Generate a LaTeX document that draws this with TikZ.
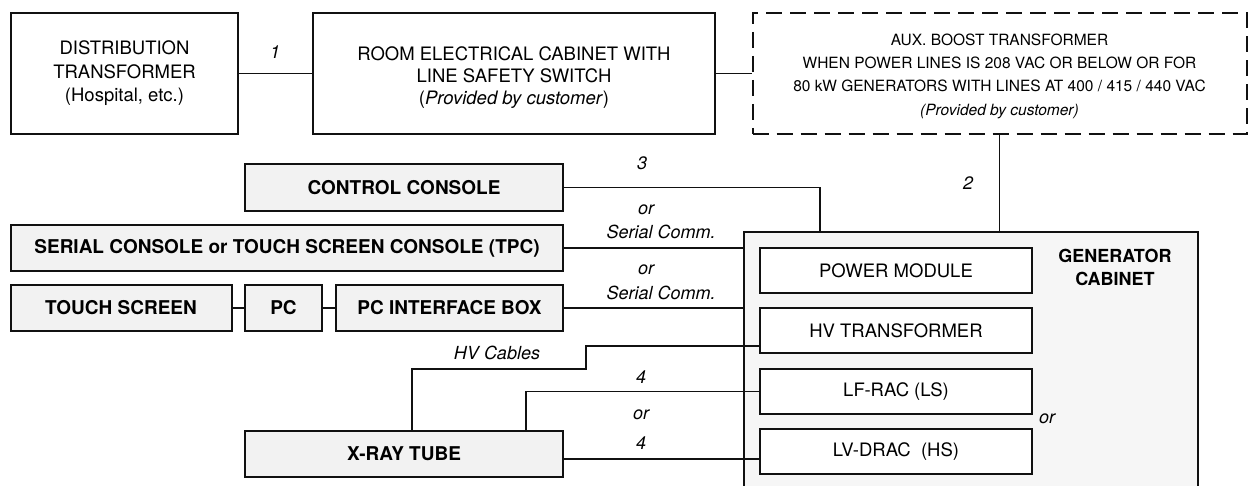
\documentclass[tikz,border=0pt]{standalone}
\usepackage{fontspec}
\setmainfont{TeX Gyre Heros}
\usetikzlibrary{calc}
\definecolor{BoxGray}{HTML}{F2F2F2}
\definecolor{CabGray}{HTML}{F6F6F6}
\definecolor{InkDark}{HTML}{111111}
\tikzset{
  whitebox/.style={rectangle, draw=InkDark, line width=2pt, fill=white,
             align=center, inner sep=0pt, font=\fontsize{18.5}{23.5}\selectfont},
  graybox/.style={whitebox, fill=BoxGray, minimum height=46pt,
             font=\fontsize{19}{22}\selectfont\bfseries},
  auxbox/.style={whitebox, dash pattern=on 16pt off 8pt,
             font=\fontsize{15.5}{23.4}\selectfont},
  modbox/.style={whitebox, minimum width=272pt, minimum height=45pt},
  cabbox/.style={rectangle, draw=InkDark, line width=2pt, fill=CabGray},
  wire/.style={line width=1.8pt, draw=InkDark},
  wlabel/.style={font=\fontsize{18}{21}\selectfont\itshape, inner sep=0pt, align=center},
}
\begin{document}
\begin{tikzpicture}[x=1pt, y=-1pt]
\useasboundingbox (0,0) rectangle (1249,486);
\node[whitebox, minimum width=227pt, minimum height=121pt] (dist) at (124.5,73.5) {DISTRIBUTION\\TRANSFORMER\\(Hospital, etc.)};
\node[whitebox, minimum width=402pt, minimum height=121pt, text height=66pt, font=\fontsize{18.5}{22}\selectfont] (room) at (514,73.5) {ROOM ELECTRICAL CABINET WITH\\LINE SAFETY SWITCH\\(\textit{Provided by customer})};
\node[auxbox, minimum width=494pt, minimum height=121pt, text height=87pt] (aux) at (999.5,73.5) {AUX. BOOST TRANSFORMER\\WHEN POWER LINES IS 208 VAC OR BELOW OR FOR\\80 kW GENERATORS WITH LINES AT 400 / 415 / 440 VAC\\\textit{(Provided by customer)}};
\node[cabbox, minimum width=454pt, minimum height=290pt] (cab) at (971,377) {};
\node[font=\fontsize{18}{23}\selectfont\bfseries, align=center, inner sep=0pt] (cabname) at (1115,267) {GENERATOR\\CABINET};
\node[modbox] (pm) at (896,270.5) {POWER MODULE};
\node[modbox] (hvt) at (896,330.5) {HV TRANSFORMER};
\node[modbox] (lfrac) at (896,391.5) {LF-RAC (LS)};
\node[modbox] (lvdrac) at (896,451.5) {LV-DRAC\ \ (HS)};
\node[graybox, minimum width=318pt, minimum height=47pt] (ctrl) at (404,187.5) {CONTROL CONSOLE};
\node[graybox, minimum width=552pt] (serial) at (287,248) {SERIAL CONSOLE or TOUCH SCREEN CONSOLE (TPC)};
\node[graybox, minimum width=221pt] (touch) at (121,308) {TOUCH SCREEN};
\node[graybox, minimum width=77pt] (pc) at (283.5,308) {PC};
\node[graybox, minimum width=227pt] (pcib) at (449.5,308) {PC INTERFACE BOX};
\node[graybox, minimum width=318pt] (xray) at (404,454) {X-RAY TUBE};
\coordinate (hvbend) at (586,369);
\coordinate (hvdrop) at (412,369);
\coordinate (lfdrop) at (526,0);
\draw[wire] (dist) -- (room);
\draw[wire] (room) -- (aux);
\draw[wire] (aux) -- (aux |- cab.north);
\draw[wire] (ctrl.east) -| ($(cab.north west)+(77,0)$);
\draw[wire] (serial.east) -- (serial.east -| cab.west);
\draw[wire] (pcib.east) -- (pcib.east -| cab.west);
\draw[wire] (touch) -- (pc);
\draw[wire] (pc) -- (pcib);
\draw[wire] ([yshift=-15.5pt]hvt.west) -| (hvbend) -- (hvdrop) -- (hvdrop |- xray.north);
\draw[wire] (lfrac.west) -| (lfdrop |- xray.north);
\draw[wire] ([yshift=-5pt]xray.east) -- ([yshift=-5pt]xray.east -| lvdrac.west);
\node[wlabel] (n1) at (275,52) {1};
\node[wlabel] (n2) at (968,183) {2};
\node[wlabel] (n3) at (642,163) {3};
\node[wlabel] (or1) at (646,210) {or};
\node[wlabel] (sc1) at (661,232) {Serial Comm.};
\node[wlabel] (or2) at (646,270) {or};
\node[wlabel] (sc2) at (661,293) {Serial Comm.};
\node[wlabel] (hvc) at (497,353) {HV Cables};
\node[wlabel] (n4a) at (641,377) {4};
\node[wlabel] (or3) at (641,415) {or};
\node[wlabel] (n4b) at (641,443) {4};
\node[wlabel] (or4) at (1047,419) {or};
\end{tikzpicture}
\end{document}
